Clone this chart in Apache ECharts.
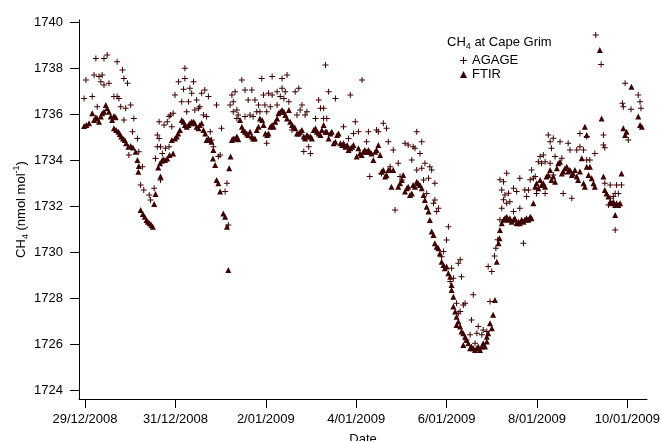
<!DOCTYPE html>
<html>
<head>
<meta charset="utf-8">
<script src="https://cdn.jsdelivr.net/npm/echarts@6/dist/echarts.min.js"></script>
<style>
html,body{margin:0;padding:0;background:#fff;}
#chart{width:661px;height:441px;}
</style>
</head>
<body>
<div id="chart"></div>
<script>
// Time axis: days since 29/12/2008 00:00 ; values: CH4 (nmol mol-1)
const xTickDays = [0, 2, 4, 6, 8, 10, 12];
const yTickValues = [1724, 1726, 1728, 1730, 1732, 1734, 1736, 1738, 1740];

// AGAGE in-situ measurements [day, CH4]
const agage = [
[-0.02,1736.69],[0.02,1737.49],[0.16,1736.77],[0.20,1737.71],[0.24,1738.43],[0.27,1736.33],[0.31,1737.64],[0.35,1737.42],[0.38,1737.71],[0.42,1738.43],[0.42,1737.27],[0.49,1738.58],[0.53,1737.35],[0.64,1736.77],[0.71,1738.29],[0.71,1736.77],[0.75,1736.69],[0.79,1736.33],[0.83,1737.93],[0.86,1737.56],[0.90,1736.26],[0.94,1737.35],[1.01,1736.40],[0.86,1735.75],[1.08,1735.82],[1.05,1735.24],[1.16,1734.95],[0.97,1734.23],[1.19,1734.37],[1.27,1733.72],[1.23,1732.93],[1.30,1732.71],[1.42,1732.49],[1.45,1732.27],[1.53,1732.78],[1.56,1734.08],[1.60,1734.59],[1.60,1735.10],[1.64,1735.68],[1.64,1734.95],[1.67,1734.59],[1.71,1734.30],[1.75,1735.53],[1.78,1734.52],[1.82,1735.68],[1.86,1735.90],[1.86,1734.59],[1.89,1735.97],[1.67,1733.14],
[2.21,1738.00],[2.07,1737.42],[2.21,1737.56],[2.40,1737.42],[1.99,1736.84],[2.18,1737.09],[2.32,1737.13],[2.36,1736.91],[2.47,1736.62],[2.58,1736.91],[2.65,1737.06],[2.73,1736.77],[2.14,1736.55],[2.29,1736.55],[2.43,1736.19],[2.51,1736.26],[2.54,1736.33],[2.25,1736.11],[1.95,1736.04],[1.92,1735.46],[2.62,1735.97],[2.69,1735.90],[2.77,1735.24],[2.80,1734.88],[2.84,1734.59],[2.91,1736.40],[2.95,1734.16],[2.99,1734.23],[3.02,1735.39],[3.10,1732.64],[3.14,1733.00],[3.17,1731.19],[3.21,1736.40],[3.25,1736.84],[3.32,1736.98],[3.28,1736.55],[3.28,1736.11],[3.36,1736.19],[3.39,1735.97],[3.47,1737.49],[3.54,1737.06],[3.61,1736.62],[3.69,1737.06],[3.76,1736.62],[3.84,1736.40],[3.87,1736.11],[3.91,1737.56],[3.95,1736.84],[3.98,1736.40],[4.02,1736.11],[4.06,1736.91],[4.02,1734.74],[3.36,1735.82],[3.54,1735.90],[3.65,1735.97],[3.80,1736.11],[3.72,1735.90],
[4.14,1737.64],[4.36,1737.56],[4.47,1737.71],[4.14,1736.84],[4.25,1736.98],[4.36,1737.13],[4.43,1736.98],[4.10,1736.33],[4.25,1736.40],[4.32,1736.77],[4.40,1736.69],[4.51,1736.55],[4.65,1736.98],[4.73,1737.13],[4.69,1735.97],[4.76,1736.19],[4.80,1736.40],[4.87,1735.97],[4.91,1736.11],[4.84,1734.38],[4.95,1734.59],[4.99,1734.30],[4.58,1735.32],[5.17,1736.62],[5.21,1736.26],[5.28,1736.26],[5.32,1738.14],[5.39,1736.98],[5.54,1736.69],[5.87,1736.84],[5.10,1735.82],[5.28,1735.82],[5.35,1735.82],[5.72,1735.46],[5.98,1735.68],[5.83,1734.95],[5.94,1735.17],[6.05,1735.24],[6.13,1737.49],
[6.27,1735.24],[6.45,1735.32],[6.49,1735.24],[6.60,1735.61],[6.67,1735.39],[6.23,1734.81],[6.71,1734.81],[6.82,1734.45],[6.93,1733.87],[7.08,1734.74],[7.15,1734.66],[7.26,1734.59],[7.30,1734.52],[7.34,1735.24],[7.45,1734.81],[7.41,1734.30],[7.23,1734.01],[7.34,1733.58],[7.45,1733.65],[7.52,1733.87],[7.63,1733.72],[7.67,1733.58],[7.49,1733.14],[7.60,1733.22],[7.74,1733.00],[6.30,1733.29],[6.56,1733.43],[6.75,1733.72],[6.97,1733.29],[7.01,1733.14],[7.56,1732.56],[7.71,1732.13],[7.74,1732.27],[7.82,1731.91],[7.78,1731.77],[6.86,1731.84],[8.04,1731.11],[8.00,1730.53],[7.93,1730.03],[7.89,1729.81],
[8.11,1729.31],[8.26,1729.52],[8.30,1729.67],[8.33,1728.94],[8.15,1728.87],[8.08,1728.73],[8.22,1727.78],[8.30,1727.42],[8.37,1727.71],[8.41,1727.78],[8.26,1727.35],[8.59,1728.15],[8.96,1727.86],[8.55,1727.06],[8.70,1726.77],[8.67,1726.48],[8.52,1726.41],[8.78,1726.41],[8.81,1726.62],[8.89,1726.55],[8.44,1726.19],[8.63,1726.04],[8.92,1729.38],[9.00,1729.16],[9.06,1729.84],[9.09,1730.17],[9.13,1730.54],[9.18,1731.41],[9.22,1731.91],[9.26,1732.28],[9.29,1732.49],[9.33,1732.13],[9.40,1732.20],[9.48,1731.77],[9.62,1731.91],[9.70,1730.39],[9.18,1733.15],[9.26,1733.07],[9.33,1733.44],[9.22,1732.71],[9.37,1732.57],[9.48,1732.78],[9.55,1732.64],[9.62,1733.22],[9.73,1732.71],[9.77,1732.42],[9.81,1732.71],[9.85,1733.15],[9.88,1733.58],[9.92,1733.22],[9.96,1733.29],
[11.30,1739.45],[11.42,1738.17],[11.95,1737.35],[12.24,1736.84],[12.28,1736.55],[11.89,1736.48],[11.91,1736.33],[12.08,1736.22],[12.30,1736.26],[11.47,1735.10],[11.47,1734.67],[11.50,1734.55],[12.02,1734.88],[10.25,1735.10],[10.36,1734.96],[10.29,1734.81],[10.32,1734.52],[10.51,1734.81],[10.69,1734.74],[10.95,1735.17],[11.10,1735.03],[10.95,1734.59],[10.73,1734.45],[10.88,1734.45],[11.03,1734.45],[11.17,1734.01],[11.28,1734.30],[10.07,1734.16],[10.14,1734.23],[10.03,1733.94],[10.10,1733.87],[10.18,1733.94],[10.29,1733.87],[10.40,1734.16],[10.55,1734.09],[11.10,1734.01],[10.36,1733.36],[10.58,1732.56],[10.77,1732.35],[10.18,1732.56],[9.99,1732.56],[11.62,1732.93],[11.76,1732.93],[11.87,1732.93],[11.73,1732.56],[11.80,1732.56],[11.62,1732.35],[11.69,1732.42],[11.58,1732.06],[11.73,1730.97],[11.50,1733.00]
];

// FTIR column measurements [day, CH4]
const ftir = [
[-0.02,1735.49],[0.03,1735.53],[0.09,1735.61],[0.16,1736.04],[0.20,1735.75],[0.24,1735.87],[0.27,1735.82],[0.31,1735.68],[0.35,1735.90],[0.38,1736.04],[0.42,1736.11],[0.46,1736.40],[0.49,1736.26],[0.53,1736.11],[0.57,1735.90],[0.60,1735.75],[0.64,1735.93],[0.68,1735.87],[0.64,1735.39],[0.69,1735.32],[0.74,1735.24],[0.77,1735.14],[0.80,1735.03],[0.84,1734.95],[0.88,1734.88],[0.91,1734.74],[0.96,1734.59],[1.01,1734.62],[1.06,1734.56],[1.12,1734.37],[1.16,1734.01],[1.19,1733.75],[1.18,1733.50],[1.23,1731.84],[1.28,1731.66],[1.32,1731.55],[1.36,1731.40],[1.39,1731.33],[1.43,1731.26],[1.47,1731.19],[1.50,1731.11],[1.53,1732.10],[1.56,1732.53],[1.67,1733.29],[1.62,1733.69],[1.66,1733.87],[1.70,1733.98],[1.73,1734.04],[1.77,1734.01],[1.82,1734.08],[1.87,1734.23],
[1.92,1734.88],[1.95,1734.30],[1.99,1734.95],[2.03,1735.03],[2.06,1735.17],[2.10,1735.32],[2.14,1735.75],[2.18,1735.68],[2.21,1735.53],[2.25,1735.46],[2.29,1735.53],[2.32,1735.61],[2.36,1735.68],[2.40,1735.68],[2.43,1735.61],[2.47,1735.46],[2.51,1735.39],[2.54,1735.53],[2.58,1735.61],[2.62,1735.32],[2.66,1735.17],[2.69,1734.88],[2.73,1734.95],[2.77,1734.88],[2.80,1734.81],[2.84,1734.45],[2.83,1734.08],[2.88,1733.80],[2.91,1733.14],[2.95,1733.00],[2.99,1732.64],[3.06,1731.69],[3.10,1731.55],[3.14,1731.11],[3.17,1729.23],[3.19,1733.65],[3.22,1734.16],[3.25,1734.88],[3.28,1734.95],[3.32,1734.95],[3.36,1735.03],[3.39,1734.91],[3.43,1735.75],[3.47,1735.46],[3.50,1735.32],[3.54,1735.24],[3.58,1735.17],[3.61,1735.10],[3.65,1735.24],[3.69,1735.03],[3.72,1734.95],[3.76,1734.95],[3.80,1735.32],[3.84,1735.46],[3.87,1735.82],
[3.92,1735.75],[3.95,1735.53],[3.99,1735.17],[4.03,1735.10],[4.06,1735.17],[4.10,1735.46],[4.14,1735.53],[4.17,1735.46],[4.21,1735.68],[4.25,1735.82],[4.28,1736.04],[4.32,1736.11],[4.36,1736.19],[4.40,1736.11],[4.43,1735.97],[4.47,1735.82],[4.51,1736.19],[4.54,1735.68],[4.58,1735.53],[4.62,1735.46],[4.65,1735.39],[4.69,1735.17],[4.73,1735.17],[4.76,1735.24],[4.80,1735.32],[4.84,1735.03],[4.87,1734.95],[4.91,1735.10],[4.95,1735.03],[4.99,1735.03],[5.02,1734.95],[5.06,1735.32],[5.10,1735.39],[5.13,1735.24],[5.17,1735.17],[5.21,1735.10],[5.24,1735.32],[5.28,1735.53],[5.32,1735.24],[5.35,1735.24],[5.39,1734.95],[5.43,1735.17],[5.46,1735.24],[5.50,1734.74],[5.54,1734.81],[5.58,1735.10],[5.61,1735.17],[5.65,1734.74],[5.69,1734.66],[5.72,1734.74],[5.76,1734.59],[5.80,1734.66],[5.83,1734.45],[5.87,1734.52],[5.91,1734.59],[5.94,1734.66],
[6.01,1734.16],[6.05,1734.52],[6.08,1734.30],[6.12,1734.23],[6.16,1734.37],[6.19,1734.45],[6.23,1734.37],[6.27,1734.45],[6.30,1734.37],[6.34,1734.30],[6.38,1734.01],[6.42,1734.37],[6.45,1734.45],[6.49,1734.66],[6.53,1734.23],[6.56,1733.50],[6.60,1733.58],[6.64,1733.29],[6.67,1733.36],[6.71,1733.58],[6.75,1733.58],[6.78,1732.85],[6.82,1733.58],[6.93,1732.85],[6.97,1733.00],[7.01,1733.14],[7.04,1733.36],[7.08,1732.64],[7.12,1732.78],[7.15,1732.85],[7.19,1732.49],[7.23,1732.56],[7.26,1732.93],[7.30,1732.85],[7.34,1733.07],[7.37,1733.00],[7.41,1732.93],[7.45,1732.78],[7.49,1732.49],[7.52,1732.27],[7.56,1731.98],[7.60,1731.77],[7.63,1731.40],[7.67,1730.90],[7.71,1730.75],[7.74,1730.39],[7.78,1730.24],[7.82,1730.17],[7.85,1729.95],[7.89,1729.59],[7.93,1729.45],[7.96,1729.30],
[8.00,1729.38],[8.04,1729.09],[8.08,1728.94],[8.11,1728.58],[8.11,1728.36],[8.15,1728.07],[8.15,1727.64],[8.19,1727.42],[8.22,1727.20],[8.26,1726.99],[8.22,1726.84],[8.30,1726.77],[8.33,1726.55],[8.37,1726.48],[8.41,1726.33],[8.44,1726.19],[8.48,1726.04],[8.37,1725.97],[8.52,1725.83],[8.55,1725.90],[8.59,1725.83],[8.63,1725.75],[8.67,1725.83],[8.70,1725.90],[8.74,1725.75],[8.78,1725.90],[8.81,1726.04],[8.85,1725.90],[8.89,1726.12],[8.89,1726.33],[8.92,1726.48],[8.96,1726.91],[9.00,1726.70],[9.03,1727.28],[9.07,1727.93],[9.11,1729.59],[9.15,1730.39],[9.17,1730.61],[9.18,1730.97],[9.22,1731.26],[9.26,1731.41],[9.29,1731.48],[9.33,1731.55],[9.37,1731.41],[9.40,1731.48],[9.44,1731.33],[9.48,1731.41],[9.51,1731.48],[9.55,1731.26],[9.59,1731.33],[9.62,1731.26],[9.66,1731.41],[9.70,1731.33],[9.73,1731.41],[9.77,1731.48],[9.81,1731.41],[9.85,1731.55],[9.88,1731.48],[9.92,1732.13],
[9.96,1732.85],[9.99,1733.00],[10.03,1732.78],[10.07,1733.14],[10.10,1732.93],[10.14,1733.00],[10.18,1732.85],[10.21,1733.29],[10.25,1733.36],[10.29,1733.58],[10.32,1733.14],[10.36,1733.29],[10.40,1733.07],[10.44,1733.65],[10.47,1733.87],[10.51,1733.94],[10.55,1733.43],[10.58,1733.51],[10.62,1733.65],[10.66,1733.72],[10.69,1733.51],[10.73,1733.58],[10.77,1733.36],[10.80,1733.43],[10.84,1733.58],[10.88,1733.29],[10.91,1733.14],[10.95,1733.51],[10.99,1734.09],[11.03,1733.00],[11.06,1732.85],[11.10,1733.72],[11.14,1733.36],[11.17,1733.72],[11.21,1733.22],[11.25,1733.00],[11.28,1732.85],[11.06,1735.46],[11.10,1735.10],[11.43,1735.82],[11.39,1738.80],[11.47,1733.29],[11.50,1732.71],[11.54,1732.56],[11.58,1732.42],[11.62,1732.20],[11.65,1732.13],[11.69,1732.20],[11.73,1732.06],[11.76,1732.13],[11.80,1732.06],[11.84,1732.13],[11.73,1731.62],[11.87,1733.43],[11.91,1735.39],[11.95,1735.10],[11.98,1735.24],[12.09,1737.20],[12.24,1735.90],[12.28,1735.53],[12.32,1735.46]
];

const markColor = '#3c0000';
const fontFam = '"Liberation Sans", Arial, Helvetica, sans-serif';
const crossPath = 'path://M2.5,0h1v2.5h2.5v1h-2.5v2.5h-1v-2.5h-2.5v-1h2.5z';
const baseDate = Date.UTC(2008, 11, 29);

function fmtDate(v) {
  const d = new Date(baseDate + Math.round(v) * 86400000);
  const m = d.getUTCMonth() + 1;
  return d.getUTCDate() + '/' + (m < 10 ? '0' + m : m) + '/' + d.getUTCFullYear();
}

const chart = echarts.init(document.getElementById('chart'), null, {renderer: 'canvas'});
const richBase = {
  a: {fontSize: 13, fontFamily: fontFam, fontWeight: 'normal', color: '#000', lineHeight: 18},
  s: {fontSize: 9, fontFamily: fontFam, fontWeight: 'normal', color: '#000', lineHeight: 8, verticalAlign: 'bottom'},
  p: {fontSize: 9, fontFamily: fontFam, fontWeight: 'normal', color: '#000', lineHeight: 9, verticalAlign: 'top'}
};
chart.setOption({
  animation: false,
  backgroundColor: '#fff',
  textStyle: {fontFamily: fontFam},
  title: {
    text: '{a|CH}{s|4}{a| at Cape Grim}',
    left: 447, top: 33, padding: 0,
    textStyle: {fontWeight: 'normal', rich: richBase}
  },
  legend: {
    orient: 'vertical', left: 460, top: 54, padding: 0,
    itemWidth: 7, itemHeight: 7, itemGap: 1,
    textStyle: {fontSize: 13, color: '#000', fontFamily: fontFam},
    data: [
      {name: 'AGAGE', icon: crossPath},
      {name: 'FTIR', icon: 'triangle'}
    ]
  },
  grid: {left: 79, right: 14, top: 20, bottom: 42, containLabel: false, outerBoundsMode: 'none'},
  xAxis: {
    type: 'value',
    min: -0.133, max: 12.434,
    name: 'Date', nameLocation: 'middle', nameGap: 34, nameMoveOverlap: false,
    nameTextStyle: {fontSize: 13, color: '#000', fontFamily: fontFam},
    axisLine: {show: true, onZero: false, lineStyle: {color: '#000', width: 1}},
    axisTick: {show: true, inside: false, length: 9, lineStyle: {color: '#000'}, customValues: xTickDays},
    axisLabel: {fontSize: 13, color: '#000', margin: 14, customValues: xTickDays, formatter: fmtDate},
    splitLine: {show: false}
  },
  yAxis: {
    type: 'value',
    min: 1723.62, max: 1740.1,
    name: '{a|CH}{s|4}{a| (nmol mol}{p|-1}{a|)}',
    nameLocation: 'middle', nameGap: 49, nameRotate: 90, nameMoveOverlap: false,
    nameTextStyle: {rich: richBase},
    axisLine: {show: true, onZero: false, lineStyle: {color: '#000', width: 1}},
    axisTick: {show: true, inside: false, length: 9, lineStyle: {color: '#000'}, customValues: yTickValues},
    axisLabel: {fontSize: 13, color: '#000', margin: 16, customValues: yTickValues, formatter: function (v) { return String(Math.round(v)); }},
    splitLine: {show: false}
  },
  series: [
    {
      name: 'AGAGE', type: 'scatter', data: agage,
      symbol: crossPath, symbolSize: 6,
      itemStyle: {color: markColor, opacity: 1}
    },
    {
      name: 'FTIR', type: 'scatter', data: ftir,
      symbol: 'triangle', symbolSize: 6,
      itemStyle: {color: markColor, opacity: 1}
    }
  ]
});
</script>
</body>
</html>
